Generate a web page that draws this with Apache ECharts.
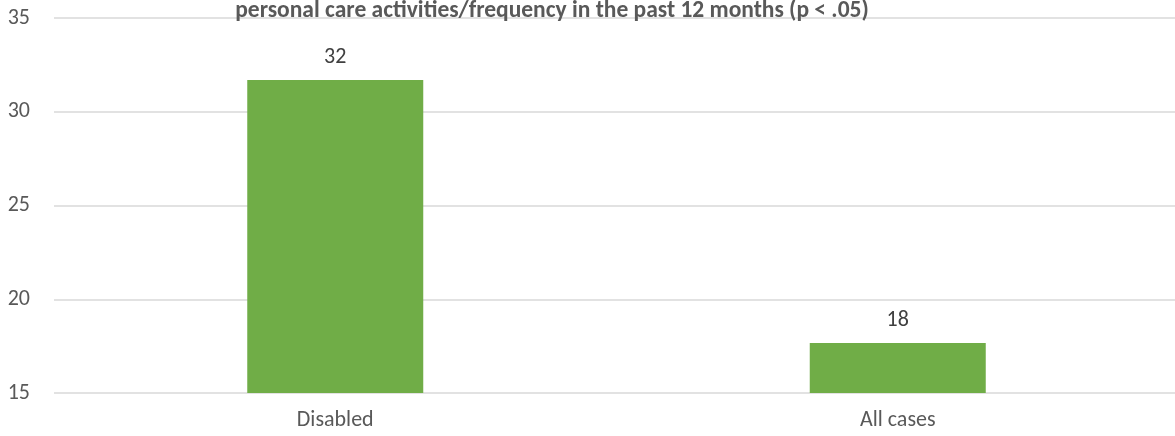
<!DOCTYPE html>
<html>
<head>
<meta charset="utf-8">
<script src="https://cdn.jsdelivr.net/npm/echarts@6/dist/echarts.min.js"></script>
<style>
  html, body { margin: 0; padding: 0; background: #fff; }
  #chart { width: 1175px; height: 436px; }
</style>
</head>
<body>
<div id="chart"></div>
<script>
const categories = ['Disabled', 'All cases']
const values = [31.7, 17.67]
const titleText = 'personal care activities/frequency in the past 12 months (p < .05)'

const font = 'Carlito, Lato, "Open Sans", sans-serif'

const myChart = echarts.init(document.getElementById('chart'))
const option = {
  animation: false,
  title: {
    text: titleText,
    left: 547,
    textAlign: 'center',
    top: -6,
    textStyle: {
      fontFamily: font,
      fontSize: 23.5,
      fontWeight: 'bold',
      color: '#595959'
    }
  },
  grid: {
    left: 54,
    right: -4,
    top: 18,
    bottom: 43,
    outerBoundsMode: 'none'
  },
  xAxis: {
    type: 'category',
    data: categories,
    axisLine: { show: false },
    axisTick: { show: false },
    axisLabel: {
      fontFamily: font,
      fontSize: 22,
      color: '#595959',
      margin: 16
    }
  },
  yAxis: {
    type: 'value',
    min: 15,
    max: 35,
    interval: 5,
    axisLine: { show: false },
    axisTick: { show: false },
    axisLabel: {
      fontFamily: font,
      fontSize: 22,
      color: '#595959',
      margin: 24
    },
    splitLine: { lineStyle: { color: '#d9d9d9', width: 1.5 } }
  },
  series: [
    {
      type: 'bar',
      data: values,
      barWidth: 176,
      itemStyle: { color: '#70ad47' },
      label: {
        show: true,
        position: 'top',
        distance: 11,
        fontFamily: font,
        fontSize: 22,
        color: '#404040',
        formatter: p => Math.round(p.value)
      }
    }
  ]
}
myChart.setOption(option)
</script>
</body>
</html>
